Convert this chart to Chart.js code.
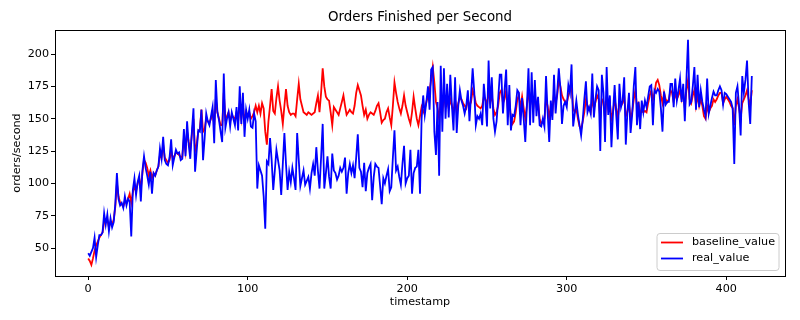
<!DOCTYPE html>
<html>
<head>
<meta charset="utf-8">
<script src="https://cdn.jsdelivr.net/npm/chart.js@4"></script>
<style>
html,body{margin:0;padding:0;background:#fff;}
#wrap{width:800px;height:320px;position:relative;}
</style>
</head>
<body>
<div id="wrap"><canvas id="c" width="800" height="320"></canvas></div>
<script>
const chartTitle = "Orders Finished per Second";
const xAxisTitle = "timestamp";
const yAxisTitle = "orders/second";
const seriesNames = ["baseline_value", "real_value"];
const xTicks = [0, 100, 200, 300, 400];
const yTicks = [50, 75, 100, 125, 150, 175, 200];

const baselineValue = [
42,40,37,42,48,52,55,58,60,62,
70,70,72,66,70,68,72,82,100,90,
85,84,82,86,85,88,92,85,93,98,
94,100,104,96,108,118,116,112,106,110,
104,108,106,110,113,122,120,130,120,118,
116,118,125,120,121,124,123,122,120,121,
135,125,140,132,126,138,150,125,130,140,
142,157,140,142,150,148,147,150,155,145,
165,155,150,145,145,170,150,152,155,148,
153,151,150,155,148,162,150,160,148,155,
152,155,150,152,155,160,155,160,154,162,
158,140,130,148,160,173,156,154,166,175,
164,156,146,160,173,160,155,153,154,154,
152,165,177,165,160,155,154,153,155,154,
153,154,155,162,168,155,170,189,175,167,
165,164,155,145,159,157,155,153,158,163,
168,160,153,155,157,155,154,160,170,176,
172,168,160,153,157,150,153,155,154,153,
156,160,162,155,147,149,150,155,158,151,
145,160,178,170,163,158,154,160,168,160,
155,150,146,155,167,158,150,145,152,159,
155,158,163,168,172,180,190,178,163,158,
150,165,155,168,160,165,158,165,160,155,
165,155,162,166,165,162,160,158,165,160,
163,172,168,162,160,159,158,160,167,165,
160,172,163,168,158,153,155,160,170,172,
162,165,172,158,165,150,146,148,155,165,
168,158,167,158,150,160,172,160,170,158,
168,160,163,150,146,148,150,165,160,150,
160,155,170,162,168,180,175,168,165,163,
162,168,172,175,158,155,158,150,144,142,
148,155,165,160,158,155,165,158,163,168,
165,150,165,163,150,168,158,163,150,155,
165,158,150,163,160,162,168,152,155,162,
150,155,165,172,160,162,155,156,155,156,
155,162,168,172,165,170,178,180,176,168,
162,170,165,163,165,172,170,163,170,165,
168,172,165,170,158,172,180,165,162,168,
172,160,168,160,165,160,152,150,160,155,
158,160,165,163,165,168,170,170,162,165,
167,165,163,160,158,145,160,165,158,150,
162,165,168,172,165,160,172
];

const realValue = [
46,44,47,50,58,43,52,60,60,62,
77,68,76,63,73,66,70,84,108,88,
83,85,81,90,83,88,86,59,95,104,
91,101,106,86,110,121,112,106,99,109,
92,108,106,110,113,127,119,136,118,115,
114,120,134,114,120,126,123,124,118,119,
142,121,148,130,119,140,158,109,125,141,
140,157,118,135,154,148,145,152,159,131,
180,155,149,140,132,185,143,150,155,144,
155,150,145,159,141,175,146,170,136,157,
150,157,144,143,154,148,96,114,110,106,
90,65,117,115,135,118,95,110,126,118,
110,91,115,139,115,95,109,101,112,104,
95,139,118,98,104,110,99,102,105,96,
108,115,106,128,110,96,120,146,96,108,
121,105,96,123,110,108,103,106,112,109,
112,120,92,108,115,108,114,104,120,138,
112,109,97,116,94,108,112,115,87,105,
115,113,112,98,84,104,100,106,111,94,
97,120,141,110,113,105,99,115,129,100,
104,106,126,92,108,112,113,126,92,150,
168,153,163,175,157,188,190,140,122,163,
106,191,140,189,150,177,151,184,160,141,
182,139,160,172,164,160,154,160,172,148,
168,189,171,145,152,150,154,145,177,163,
144,195,158,182,150,140,148,165,184,184,
154,172,188,145,176,141,153,152,160,172,
170,145,166,150,132,160,189,145,186,147,
180,152,167,145,144,150,144,183,155,132,
164,149,184,154,170,189,174,146,160,163,
159,176,170,192,144,154,164,153,145,137,
149,165,179,155,159,154,185,151,165,175,
172,125,184,170,132,190,153,168,128,155,
176,153,134,177,159,164,182,130,155,170,
139,153,175,190,145,163,142,164,155,164,
159,167,175,176,145,172,170,173,171,158,
140,171,161,163,163,177,177,159,181,164,
172,181,163,177,148,180,211,161,163,175,
190,157,184,159,172,163,157,152,181,154,
160,166,171,168,168,172,175,172,161,170,
169,167,165,163,158,115,170,175,160,137,
183,170,180,195,163,146,183
];

const timestamps = baselineValue.map((_, i) => i);

const FONT = "'DejaVu Sans', 'Liberation Sans', sans-serif";
const colors = ["#ff0000", "#0000ff"];
const TICK_PX = 11.2;
const TITLE_PX = 13.4;

const framePlugin = {
  id: 'frame',
  afterDraw(chart) {
    const {ctx, chartArea: a} = chart;
    ctx.save();
    ctx.strokeStyle = '#000';
    ctx.lineWidth = 1;
    ctx.strokeRect(Math.round(a.left) + 0.5, Math.round(a.top) + 0.5, Math.round(a.right - a.left), Math.round(a.bottom - a.top));
    // title
    ctx.fillStyle = '#000';
    ctx.font = TITLE_PX + "px " + FONT;
    ctx.textAlign = 'center';
    ctx.textBaseline = 'middle';
    ctx.fillText(chartTitle, (a.left + a.right) / 2, 18);
    // legend
    const bx = 657, by = 233.5, bw = 122, bh = 37, r = 3;
    ctx.beginPath();
    ctx.moveTo(bx + r, by);
    ctx.lineTo(bx + bw - r, by);
    ctx.quadraticCurveTo(bx + bw, by, bx + bw, by + r);
    ctx.lineTo(bx + bw, by + bh - r);
    ctx.quadraticCurveTo(bx + bw, by + bh, bx + bw - r, by + bh);
    ctx.lineTo(bx + r, by + bh);
    ctx.quadraticCurveTo(bx, by + bh, bx, by + bh - r);
    ctx.lineTo(bx, by + r);
    ctx.quadraticCurveTo(bx, by, bx + r, by);
    ctx.closePath();
    ctx.fillStyle = 'rgba(255,255,255,0.8)';
    ctx.fill();
    ctx.strokeStyle = '#cccccc';
    ctx.lineWidth = 1;
    ctx.stroke();
    ctx.font = TICK_PX + "px " + FONT;
    ctx.textAlign = 'left';
    ctx.textBaseline = 'middle';
    seriesNames.forEach((name, i) => {
      const y = 242.5 + i * 16;
      ctx.strokeStyle = colors[i];
      ctx.lineWidth = 1.8;
      ctx.beginPath();
      ctx.moveTo(661, y);
      ctx.lineTo(683, y);
      ctx.stroke();
      ctx.fillStyle = '#000';
      ctx.fillText(name, 692, y);
    });
    ctx.restore();
  }
};

new Chart(document.getElementById('c'), {
  type: 'line',
  data: {
    datasets: [
      {
        label: seriesNames[0],
        data: timestamps.map((t, i) => ({x: t, y: baselineValue[i]})),
        borderColor: colors[0],
        borderWidth: 1.8,
        pointRadius: 0,
        tension: 0,
        fill: false,
        order: 1
      },
      {
        label: seriesNames[1],
        data: timestamps.map((t, i) => ({x: t, y: realValue[i]})),
        borderColor: colors[1],
        borderWidth: 1.8,
        pointRadius: 0,
        tension: 0,
        fill: false,
        order: 0
      }
    ]
  },
  options: {
    responsive: false,
    animation: false,
    devicePixelRatio: 1,
    layout: {padding: {top: 30, right: 15, left: 0, bottom: 0}},
    plugins: {
      legend: {display: false},
      title: {display: false},
      tooltip: {enabled: false}
    },
    scales: {
      x: {
        type: 'linear',
        min: -20.8,
        max: 436.8,
        afterBuildTicks(scale) { scale.ticks = xTicks.map(v => ({value: v})); },
        afterFit(scale) { scale.height = 44; },
        ticks: {
          color: '#000',
          font: {family: FONT, size: TICK_PX},
          padding: 2,
          maxRotation: 0,
          callback: v => String(v)
        },
        grid: {display: true, drawOnChartArea: false, drawTicks: true, tickLength: 4, color: '#000', tickWidth: 1},
        border: {display: true, color: '#000', width: 1},
        title: {display: true, text: xAxisTitle, color: '#000', font: {family: FONT, size: TICK_PX}, padding: {top: 0, bottom: 11}}
      },
      y: {
        type: 'linear',
        min: 28.4,
        max: 218.6,
        afterBuildTicks(scale) { scale.ticks = yTicks.map(v => ({value: v})); },
        afterFit(scale) { scale.width = 55; },
        ticks: {
          color: '#000',
          font: {family: FONT, size: TICK_PX},
          padding: 2,
          callback: v => String(v)
        },
        grid: {display: true, drawOnChartArea: false, drawTicks: true, tickLength: 4, color: '#000', tickWidth: 1},
        border: {display: true, color: '#000', width: 1},
        title: {display: true, text: yAxisTitle, color: '#000', font: {family: FONT, size: TICK_PX}, padding: {top: 10, bottom: 0}}
      }
    }
  },
  plugins: [framePlugin]
});
</script>
</body>
</html>
